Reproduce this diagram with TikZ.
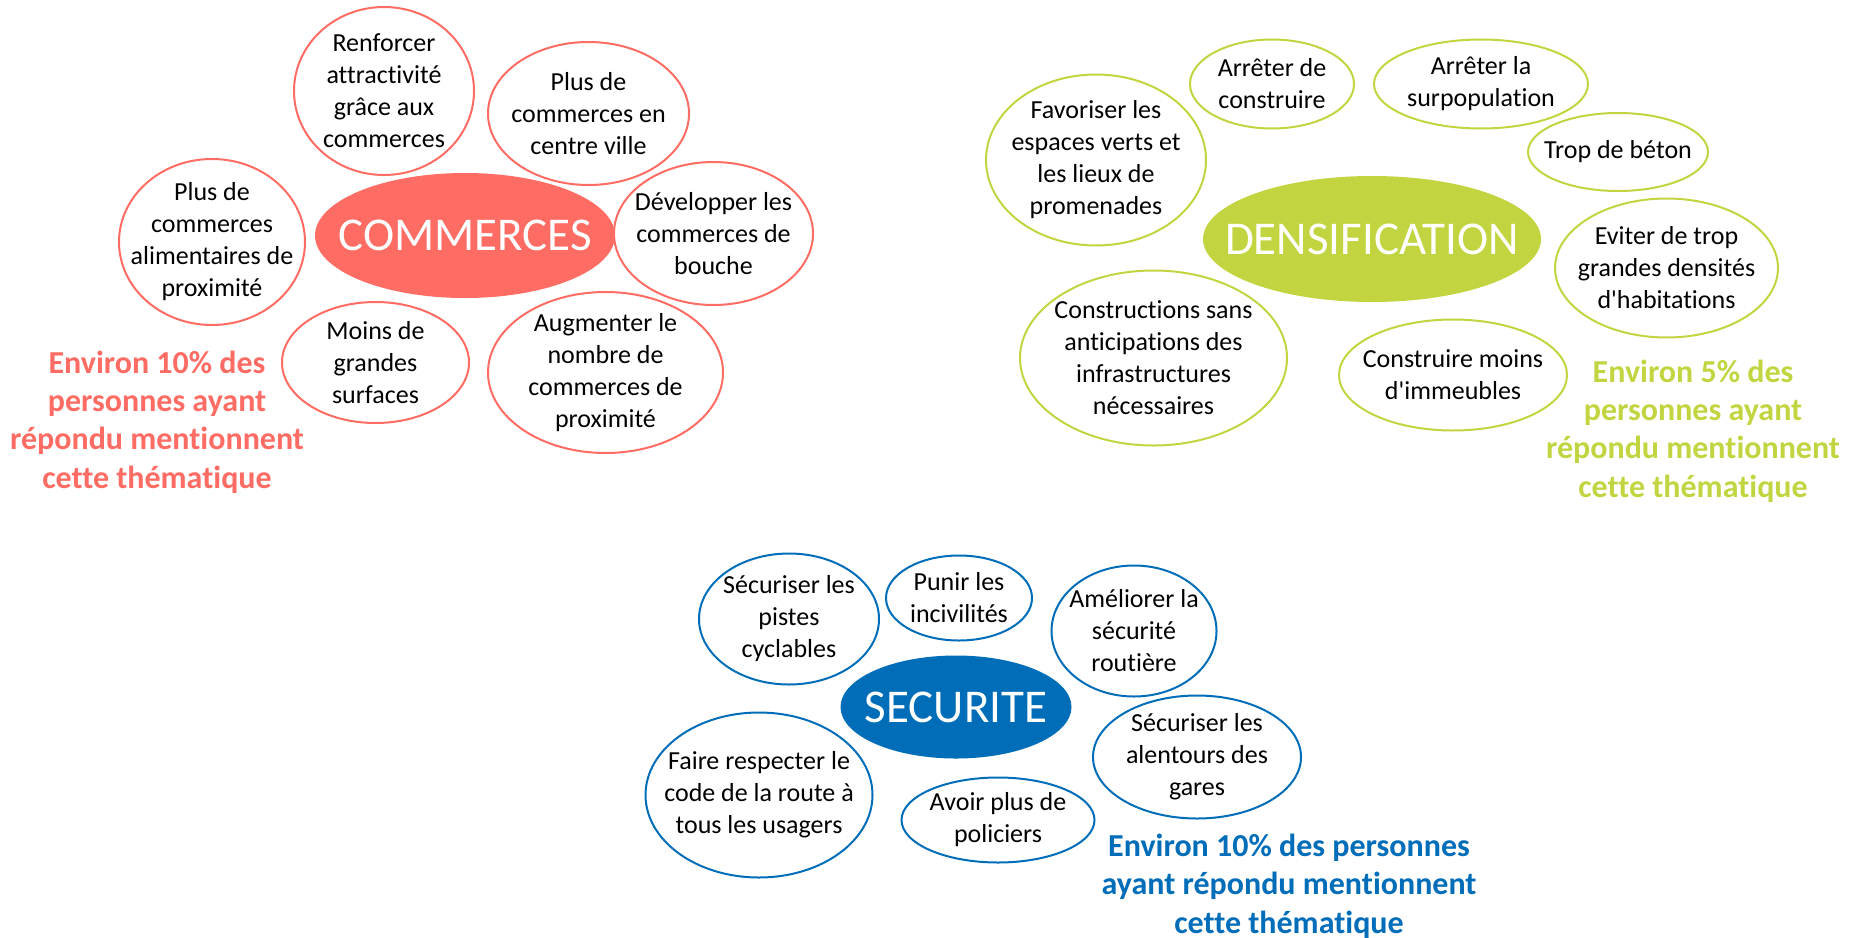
\documentclass[tikz,border=0pt]{standalone}
\usepackage{fontspec}
\setmainfont[Ligatures={TeXOff,NoCommon}]{Carlito}
\usetikzlibrary{shapes}
\definecolor{coral}{HTML}{FF6C64}
\definecolor{lime}{HTML}{C2D541}
\definecolor{azure}{HTML}{006DB9}

\begin{document}
\begin{tikzpicture}[x=0.5pt, y=-0.5pt]
	\tikzstyle{bubble} = [draw, fill=white, line width=1pt, ellipse, inner sep=-40pt,
	align=center, font=\fontsize{13}{16}\selectfont]
	\tikzstyle{theme} = [ellipse, inner sep=-40pt, text=white,
	font=\fontsize{23.5}{28}\selectfont]
	\tikzstyle{share} = [align=center, font=\bfseries\fontsize{16}{19.2}\selectfont]

	\useasboundingbox (0,0) rectangle (1855,937);

	% commerces
	\path
		node[theme, fill=coral, minimum width=150pt, minimum height=62.5pt] (c0) at (465,235.5) {COMMERCES}
		node[bubble, draw=coral, minimum width=90pt, minimum height=84pt] (c1) at (384,91) {Renforcer\\attractivité\\grâce aux\\commerces}
		node[bubble, draw=coral, minimum width=100.5pt, minimum height=71.5pt] (c2) at (588.5,113.5) {Plus de\\commerces en\\centre ville}
		node[bubble, draw=coral, minimum width=99.5pt, minimum height=71.5pt] (c3) at (713.5,233.5) {Développer les\\commerces de\\bouche}
		node[bubble, draw=coral, minimum width=93pt, minimum height=83pt] (c4) at (212,242) {Plus de\\commerces\\alimentaires de\\proximité}
		node[bubble, draw=coral, minimum width=93.5pt, minimum height=60.5pt] (c5) at (375.5,362.5) {Moins de\\grandes\\surfaces}
		node[bubble, draw=coral, minimum width=117.5pt, minimum height=80.5pt] (c6) at (605.5,372.5) {Augmenter le\\nombre de\\commerces de\\proximité}
		node[share, text=coral] (lc) at (157,422) {Environ 10\% des\\personnes ayant\\répondu mentionnent\\cette thématique}
	;

	% densification
	\path
		node[theme, fill=lime, minimum width=169pt, minimum height=63pt] (d0) at (1372,239) {DENSIFICATION}
		node[bubble, draw=lime, minimum width=110pt, minimum height=85.5pt] (d1) at (1096,160) {Favoriser les\\espaces verts et\\les lieux de\\promenades}
		node[bubble, draw=lime, minimum width=82pt, minimum height=44.5pt] (d2) at (1272,84) {Arrêter de\\construire}
		node[bubble, draw=lime, minimum width=107pt, minimum height=44.5pt] (d3) at (1481,84) {Arrêter la\\surpopulation}
		node[bubble, draw=lime, minimum width=90pt, minimum height=39pt] (d4) at (1618,152) {Trop de béton}
		node[bubble, draw=lime, minimum width=111.5pt, minimum height=69.5pt] (d5) at (1666.5,268) {Eviter de trop\\grandes densités\\d'habitations}
		node[bubble, draw=lime, minimum width=114pt, minimum height=55.5pt] (d6) at (1453,375) {Construire moins\\d'immeubles}
		node[bubble, draw=lime, minimum width=133.5pt, minimum height=87.5pt] (d7) at (1153.5,358) {Constructions sans\\anticipations des\\infrastructures\\nécessaires}
		node[share, text=lime] (ld) at (1693,431) {Environ 5\% des\\personnes ayant\\répondu mentionnent\\cette thématique}
	;

	% securite
	\path
		node[theme, fill=azure, minimum width=115.5pt, minimum height=51.5pt] (s0) at (956,707) {SECURITE}
		node[bubble, draw=azure, minimum width=90pt, minimum height=65.5pt] (s1) at (789,619) {Sécuriser les\\pistes\\cyclables}
		node[bubble, draw=azure, minimum width=73pt, minimum height=42.5pt] (s2) at (959,598) {Punir les\\incivilités}
		node[bubble, draw=azure, minimum width=82.5pt, minimum height=65.5pt] (s3) at (1134,631) {Améliorer la\\sécurité\\routière}
		node[bubble, draw=azure, minimum width=104pt, minimum height=61.5pt] (s4) at (1197,757) {Sécuriser les\\alentours des\\gares}
		node[bubble, draw=azure, minimum width=113.5pt, minimum height=82.5pt] (s5) at (759,795) {Faire respecter le\\code de la route à\\tous les usagers}
		node[bubble, draw=azure, minimum width=96.5pt, minimum height=42.5pt] (s6) at (998,820) {Avoir plus de\\policiers}
		node[share, text=azure] (ls) at (1289,886) {Environ 10\% des personnes\\ayant répondu mentionnent\\cette thématique}
	;

\end{tikzpicture}
\end{document}
